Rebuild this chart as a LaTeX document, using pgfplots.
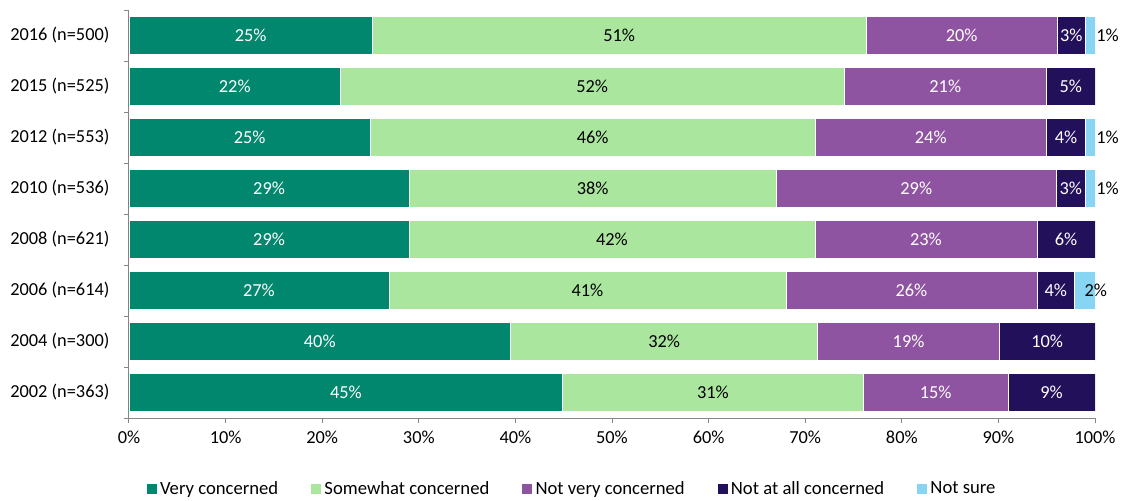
\documentclass[border=0pt]{standalone}
\usepackage{fontspec}
\setmainfont{Carlito}
\usepackage{pgfplots}
\pgfplotsset{compat=1.18}
\usepackage{pgfplotstable}
\definecolor{cA}{HTML}{00876D}
\definecolor{cB}{HTML}{ABE69F}
\definecolor{cC}{HTML}{8F54A1}
\definecolor{cD}{HTML}{22105B}
\definecolor{cE}{HTML}{87D5F2}
\definecolor{axgray}{HTML}{868686}

\pgfplotstableread{
y a b c d e la lb lc ld le
7 25.2 51.1 19.8 2.9 1.0 25\% 51\% 20\% 3\% 1\%
6 21.9 52.1 21.0 5.0 0 22\% 52\% 21\% 5\% {}
5 25.0 46.0 24.0 4.0 1.0 25\% 46\% 24\% 4\% 1\%
4 29.0 38.0 29.0 3.0 1.0 29\% 38\% 29\% 3\% 1\%
3 29.0 42.0 23.0 6.0 0 29\% 42\% 23\% 6\% {}
2 26.9 41.1 26.0 3.9 2.1 27\% 41\% 26\% 4\% 2\%
1 39.5 31.8 18.8 9.9 0 40\% 32\% 19\% 10\% {}
0 44.9 31.1 15.0 9.0 0 45\% 31\% 15\% 9\% {}
}\data

\pgfplotsset{
  seg/.style n args={2}{
    fill=#1, draw=white, line width=0.4pt,
    nodes near coords, point meta=explicit symbolic,
    every node near coord/.style={anchor=center, text=#2, inner sep=0pt},
    legend image code/.code={\fill[fill=#1] (0pt,-4.1pt) rectangle (8.25pt,4.1pt);},
  },
}

\begin{document}
\fontsize{13.75}{16}\selectfont
\begin{tikzpicture}
\begin{axis}[
  at={(0,0)}, anchor=south west,
  scale only axis, width=724.5pt, height=306pt,
  xmin=0, xmax=100, ymin=-0.5, ymax=7.5,
  xbar stacked, bar width=28.5pt,
  axis lines*=left,
  axis line style={axgray, line width=0.75pt, -},
  tick style={axgray, line width=0.75pt},
  tick align=outside,
  major tick length=3.75pt,
  minor tick length=3.75pt,
  xtick={0,10,...,100},
  xticklabel={\pgfmathprintnumber{\tick}\%},
  /pgf/number format/assume math mode=true,
  ytick={0,...,7},
  yticklabels={2002 (n=363), 2004 (n=300), 2006 (n=614), 2008 (n=621), 2010 (n=536), 2012 (n=553), 2015 (n=525), 2016 (n=500)},
  minor ytick={-0.5,0.5,...,7.5},
  every major y tick/.style={draw=none},
  yticklabel style={inner sep=0pt, xshift=-10.75pt, text=black},
  xticklabel style={text=black, yshift=-1.5pt},
  legend columns=5,
  legend style={draw=none, at={(0.4586,-0.174)}, anchor=center,
    /tikz/every even column/.append style={column sep=22pt},
    /tikz/every odd column/.append style={column sep=0pt},
    font=\fontsize{14}{16}\selectfont},
  legend cell align=left,
]
\addplot[seg={cA}{white}] table[x=a,y=y,meta=la]{\data};
\addplot[seg={cB}{black}] table[x=b,y=y,meta=lb]{\data};
\addplot[seg={cC}{white}] table[x=c,y=y,meta=lc]{\data};
\addplot[seg={cD}{white}] table[x=d,y=y,meta=ld]{\data};
\addplot[fill=cE, draw=white, line width=0.4pt,
    nodes near coords, point meta=explicit symbolic,
    visualization depends on=rawx \as \rawx,
    every node near coord/.style={anchor=west, inner sep=0pt, text=black, xshift={(2-\rawx)*4.5pt}},
    legend image code/.code={\fill[fill=cE] (0pt,-4.1pt) rectangle (8.25pt,4.1pt);}]
    table[x=e,y=y,meta=le]{\data};
\legend{Very concerned, Somewhat concerned, Not very concerned, Not at all concerned, Not sure}
\end{axis}
\pgfresetboundingbox
\path[use as bounding box] (-96.75pt,-61.5pt) rectangle (744pt,313.5pt);
\end{tikzpicture}
\end{document}
